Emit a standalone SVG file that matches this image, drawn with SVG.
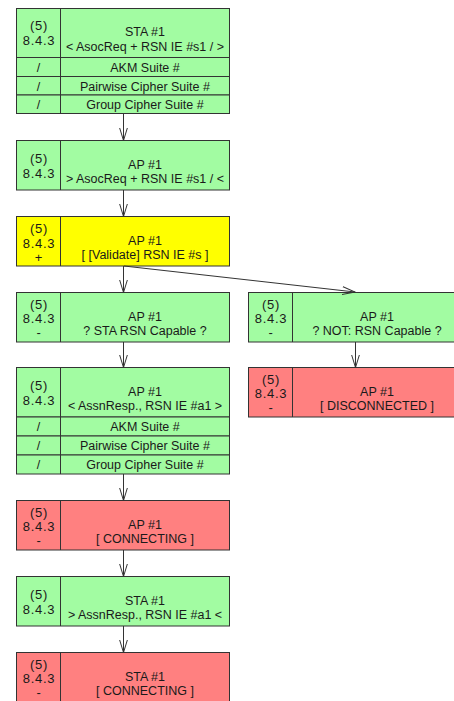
<svg xmlns="http://www.w3.org/2000/svg" width="454" height="701" viewBox="0 0 454 701">
  <style>
    .box { stroke: #333; stroke-width: 1; }
    .ok { fill: #a2fca2; }
    .check { fill: #ffff00; }
    .state { fill: #ff8080; }
    .div { stroke: #333; stroke-width: 1; fill: none; }
    text { font-family: "Liberation Sans", Arial, sans-serif; fill: #1a1a1a; text-anchor: middle; }
    .ref { font-size: 13px; letter-spacing: 0.7px; }
    .lbl { font-size: 12.5px; }
    .conn { stroke: #333; stroke-width: 1; fill: none; marker-end: url(#vee); }
  </style>
  <defs>
    <marker id="vee" viewBox="0 0 14 10" refX="13" refY="5" markerWidth="14" markerHeight="10" markerUnits="userSpaceOnUse" orient="auto">
      <path d="M0,1 L13,5 L0,9" fill="none" stroke="#333" stroke-width="1"/>
    </marker>
  </defs>

  <!-- STA #1 association request with RSN IE fields -->
  <g id="sta-asocreq">
    <rect class="box ok" x="16.5" y="8.5" width="213" height="49"/>
    <line class="div" x1="60.5" y1="8.5" x2="60.5" y2="57.5"/>
    <text class="ref" x="39" y="30">(5)</text>
    <text class="ref" x="39" y="45">8.4.3</text>
    <text class="lbl" x="145" y="36">STA #1</text>
    <text class="lbl" x="145" y="50.8">&lt; AsocReq + RSN IE #s1 / &gt;</text>
    <rect class="box ok" x="16.5" y="57.5" width="213" height="19"/>
    <rect class="box ok" x="16.5" y="76.5" width="213" height="18.5"/>
    <rect class="box ok" x="16.5" y="95" width="213" height="18.5"/>
    <line class="div" x1="60.5" y1="57.5" x2="60.5" y2="113.5"/>
    <text class="lbl" x="38.5" y="71.5">/</text>
    <text class="lbl" x="145" y="71.5">AKM Suite #</text>
    <text class="lbl" x="38.5" y="90.5">/</text>
    <text class="lbl" x="145" y="90.5">Pairwise Cipher Suite #</text>
    <text class="lbl" x="38.5" y="109">/</text>
    <text class="lbl" x="145" y="109">Group Cipher Suite  #</text>
  </g>

  <!-- AP #1 receives association request -->
  <g id="ap-asocreq">
    <rect class="box ok" x="16.5" y="140.5" width="213" height="49.5"/>
    <line class="div" x1="60.5" y1="140.5" x2="60.5" y2="190"/>
    <text class="ref" x="39" y="162.5">(5)</text>
    <text class="ref" x="39" y="177.5">8.4.3</text>
    <text class="lbl" x="145" y="168.5">AP #1</text>
    <text class="lbl" x="145" y="183.3">&gt; AsocReq + RSN IE #s1 / &lt;</text>
  </g>

  <!-- AP #1 validates RSN IE -->
  <g id="ap-validate">
    <rect class="box check" x="16.5" y="216.5" width="213" height="49.5"/>
    <line class="div" x1="60.5" y1="216.5" x2="60.5" y2="266"/>
    <text class="ref" x="39" y="233">(5)</text>
    <text class="ref" x="39" y="247.5">8.4.3</text>
    <text class="ref" x="39" y="262">+</text>
    <text class="lbl" x="145" y="244.5">AP #1</text>
    <text class="lbl" x="145" y="259.3">[ [Validate] RSN IE #s ]</text>
  </g>

  <!-- AP #1 STA RSN capable -->
  <g id="ap-rsn-capable">
    <rect class="box ok" x="16.5" y="292.5" width="213" height="49.5"/>
    <line class="div" x1="60.5" y1="292.5" x2="60.5" y2="342"/>
    <text class="ref" x="39" y="308.5">(5)</text>
    <text class="ref" x="39" y="323">8.4.3</text>
    <text class="ref" x="39" y="337">-</text>
    <text class="lbl" x="145" y="320.5">AP #1</text>
    <text class="lbl" x="145" y="335.3">? STA RSN Capable ?</text>
  </g>

  <!-- AP #1 STA not RSN capable -->
  <g id="ap-not-rsn-capable">
    <rect class="box ok" x="248.5" y="292.5" width="214" height="49.5"/>
    <line class="div" x1="292.5" y1="292.5" x2="292.5" y2="342"/>
    <text class="ref" x="271" y="308.5">(5)</text>
    <text class="ref" x="271" y="323">8.4.3</text>
    <text class="ref" x="271" y="337">-</text>
    <text class="lbl" x="377" y="320.5">AP #1</text>
    <text class="lbl" x="377" y="335.3">? NOT: RSN Capable ?</text>
  </g>

  <!-- AP #1 disconnected -->
  <g id="ap-disconnected">
    <rect class="box state" x="248.5" y="367.5" width="214" height="49.5"/>
    <line class="div" x1="292.5" y1="367.5" x2="292.5" y2="417"/>
    <text class="ref" x="271" y="383.5">(5)</text>
    <text class="ref" x="271" y="398">8.4.3</text>
    <text class="ref" x="271" y="412">-</text>
    <text class="lbl" x="377" y="395.5">AP #1</text>
    <text class="lbl" x="377" y="410.3">[ DISCONNECTED ]</text>
  </g>

  <!-- AP #1 association response with RSN IE fields -->
  <g id="ap-assnresp">
    <rect class="box ok" x="16.5" y="367.5" width="213" height="49.5"/>
    <line class="div" x1="60.5" y1="367.5" x2="60.5" y2="417"/>
    <text class="ref" x="39" y="389.5">(5)</text>
    <text class="ref" x="39" y="404.5">8.4.3</text>
    <text class="lbl" x="145" y="395.5">AP #1</text>
    <text class="lbl" x="145" y="410.3">&lt; AssnResp., RSN IE #a1 &gt;</text>
    <rect class="box ok" x="16.5" y="417" width="213" height="19"/>
    <rect class="box ok" x="16.5" y="436" width="213" height="19"/>
    <rect class="box ok" x="16.5" y="455" width="213" height="19"/>
    <line class="div" x1="60.5" y1="417" x2="60.5" y2="474"/>
    <text class="lbl" x="38.5" y="431">/</text>
    <text class="lbl" x="145" y="431">AKM Suite #</text>
    <text class="lbl" x="38.5" y="450">/</text>
    <text class="lbl" x="145" y="450">Pairwise Cipher Suite #</text>
    <text class="lbl" x="38.5" y="469">/</text>
    <text class="lbl" x="145" y="469">Group Cipher Suite  #</text>
  </g>

  <!-- AP #1 connecting -->
  <g id="ap-connecting">
    <rect class="box state" x="16.5" y="500.5" width="213" height="49.5"/>
    <line class="div" x1="60.5" y1="500.5" x2="60.5" y2="550"/>
    <text class="ref" x="39" y="516.5">(5)</text>
    <text class="ref" x="39" y="531">8.4.3</text>
    <text class="ref" x="39" y="545">-</text>
    <text class="lbl" x="145" y="528.5">AP #1</text>
    <text class="lbl" x="145" y="543.3">[ CONNECTING ]</text>
  </g>

  <!-- STA #1 receives association response -->
  <g id="sta-assnresp">
    <rect class="box ok" x="16.5" y="576.5" width="213" height="49.5"/>
    <line class="div" x1="60.5" y1="576.5" x2="60.5" y2="626"/>
    <text class="ref" x="39" y="598.5">(5)</text>
    <text class="ref" x="39" y="613.5">8.4.3</text>
    <text class="lbl" x="145" y="604.5">STA #1</text>
    <text class="lbl" x="145" y="619.3">&gt; AssnResp., RSN IE #a1 &lt;</text>
  </g>

  <!-- STA #1 connecting -->
  <g id="sta-connecting">
    <rect class="box state" x="16.5" y="652.5" width="213" height="49.5"/>
    <line class="div" x1="60.5" y1="652.5" x2="60.5" y2="702"/>
    <text class="ref" x="39" y="668.5">(5)</text>
    <text class="ref" x="39" y="683">8.4.3</text>
    <text class="ref" x="39" y="697">-</text>
    <text class="lbl" x="145" y="680.5">STA #1</text>
    <text class="lbl" x="145" y="695.3">[ CONNECTING ]</text>
  </g>

  <!-- Connectors -->
  <g id="connectors">
    <line class="conn" x1="123.5" y1="113.5" x2="123.5" y2="140.5"/>
    <line class="conn" x1="123.5" y1="190" x2="123.5" y2="216.5"/>
    <line class="conn" x1="123.5" y1="266" x2="123.5" y2="292.5"/>
    <line class="conn" x1="124" y1="266" x2="355" y2="292"/>
    <line class="conn" x1="355.5" y1="342" x2="355.5" y2="367.5"/>
    <line class="conn" x1="123.5" y1="342" x2="123.5" y2="367.5"/>
    <line class="conn" x1="123.5" y1="474" x2="123.5" y2="500.5"/>
    <line class="conn" x1="123.5" y1="550" x2="123.5" y2="576.5"/>
    <line class="conn" x1="123.5" y1="626" x2="123.5" y2="652.5"/>
  </g>
</svg>
